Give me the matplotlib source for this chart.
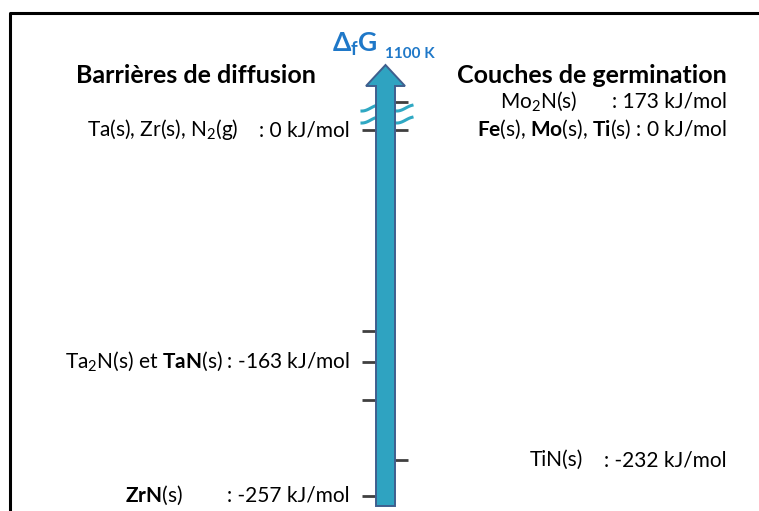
import numpy as np
import matplotlib
matplotlib.use("Agg")
import matplotlib.pyplot as plt
from matplotlib.patches import Polygon
from matplotlib.transforms import offset_copy

plt.rcParams['font.family'] = ['Lato', 'DejaVu Sans']
plt.rcParams['mathtext.fontset'] = 'custom'
plt.rcParams['mathtext.rm'] = 'Lato'
plt.rcParams['mathtext.it'] = 'Lato:italic'
plt.rcParams['mathtext.bf'] = 'Lato:bold'

# Gibbs energies of formation at 1100 K (kJ/mol)
left_species = ["Ta(s), Zr(s), N$_2$(g)", "Ta$_2$N(s) et $\\mathbf{TaN}$(s)", "$\\mathbf{ZrN}$(s)"]
left_values = [0, -163, -257]
left_extra_ticks = [-141, -190]
right_species = ["Mo$_2$N(s)", "$\\mathbf{Fe}$(s), $\\mathbf{Mo}$(s), $\\mathbf{Ti}$(s)", "TiN(s)"]
right_values = [173, 0, -232]
left_title = "Barrières de diffusion"
right_title = "Couches de germination"

# values above the break are drawn just under the arrow head
BREAK_POS = 20
def disp(v):
    return v if v <= 0 else BREAK_POS

fig = plt.figure(figsize=(7.59, 5.11), dpi=100)
# layout axes in pixels
lay = fig.add_axes([0, 0, 1, 1])
lay.set_xlim(0, 759)
lay.set_ylim(511, 0)
lay.axis('off')
# value axes: x in pixels, y in kJ/mol
ax = fig.add_axes([0, 0, 1, 1])
ax.set_xlim(0, 759)
ax.set_ylim(-267.8, 91.4)
ax.axis('off')

# frame
lay.plot([10, 10, 759], [511, 13, 13], color='black', lw=2.2, solid_capstyle='butt')

tick_col = '#404040'
for v in left_values + left_extra_ticks:
    ax.plot([362, 376], [disp(v)] * 2, color=tick_col, lw=2, solid_capstyle='butt')
for v in right_values:
    ax.plot([395, 408], [disp(v)] * 2, color=tick_col, lw=2, solid_capstyle='butt')

# break marks
xs = np.linspace(362, 412, 60)
for y0 in [108, 120]:
    ax.plot(xs, 91.4 - (y0 + 3 * np.cos(2 * np.pi * (xs - 362) / 35)) * 359.2 / 511,
            color='#2FA8C3', lw=2.2)

# arrow
arrow = Polygon([(376, 506), (376, 86), (366, 86), (385.5, 65), (405, 86), (395, 86), (395, 506)],
                closed=True, facecolor='#2FA3C1', edgecolor='#3F5F8E', lw=1.4,
                transform=lay.transData, zorder=5)
ax.add_patch(arrow)

tr = offset_copy(ax.transData, fig=fig, y=-6, units='dots')
fs = 15

left_name_x = [87, None, 125]
for name, v, nx in zip(left_species, left_values, left_name_x):
    val = ": %d kJ/mol" % v
    if nx is None:
        ax.text(350, disp(v), name + " " + val, ha='right', va='baseline', fontsize=fs, transform=tr)
    else:
        ax.text(nx, disp(v), name, ha='left', va='baseline', fontsize=fs, transform=tr)
        ax.text(350, disp(v), val, ha='right', va='baseline', fontsize=fs, transform=tr)

right_name_x = [500, None, 530]
for name, v, nx in zip(right_species, right_values, right_name_x):
    val = ": %d kJ/mol" % v
    if nx is None:
        ax.text(727, disp(v), name + " " + val, ha='right', va='baseline', fontsize=fs, transform=tr)
    else:
        ax.text(nx, disp(v), name, ha='left', va='baseline', fontsize=fs, transform=tr)
        ax.text(727, disp(v), val, ha='right', va='baseline', fontsize=fs, transform=tr)

lay.text(76, 83, left_title, fontsize=18, fontweight='bold', ha='left', va='baseline')
lay.text(727, 83, right_title, fontsize=18, fontweight='bold', ha='right', va='baseline')
lay.text(332, 52, "$\\mathbf{\\Delta_f G}$", fontsize=19, color='#1F78C8', ha='left', va='baseline')
lay.text(385, 58, "1100 K", fontsize=11, fontweight='bold', color='#1F78C8', ha='left', va='baseline')

fig.savefig("out.png", dpi=100)
